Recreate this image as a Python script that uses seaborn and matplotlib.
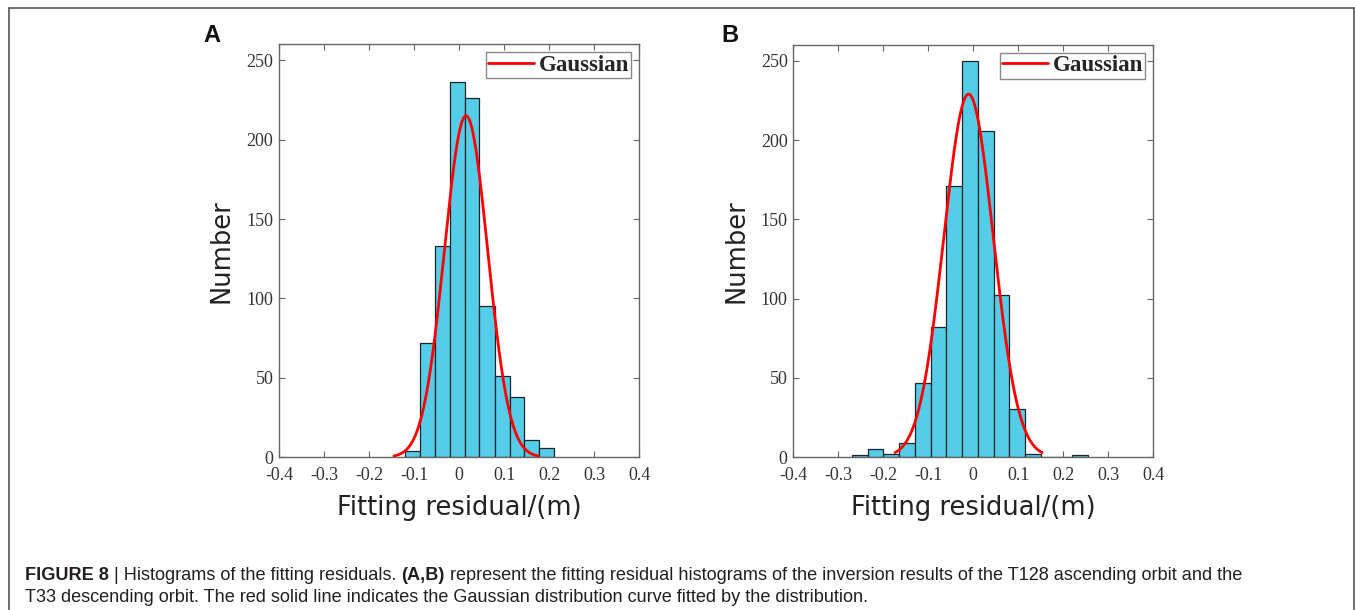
import numpy as np
import matplotlib
matplotlib.use("Agg")
import matplotlib.pyplot as plt
import seaborn as sns
from matplotlib.lines import Line2D

# ---------------- data ----------------
edges_a = [-0.120, -0.087, -0.054, -0.021, 0.012, 0.045, 0.079, 0.112, 0.145, 0.178, 0.211]
counts_a = [4, 72, 133, 236, 226, 95, 51, 38, 11, 6]
gauss_a = dict(amp=215, mu=0.0153, sigma=0.048, lo=-0.145, hi=0.176)

edges_b = [-0.270, -0.235, -0.200, -0.165, -0.130, -0.095, -0.060, -0.025, 0.010,
           0.045, 0.080, 0.115, 0.150, 0.185, 0.220, 0.255]
counts_b = [1, 5, 2, 9, 47, 82, 171, 250, 206, 102, 30, 2, 0, 0, 1]
gauss_b = dict(amp=229, mu=-0.0105, sigma=0.055, lo=-0.174, hi=0.153)

xticks = [-0.4, -0.3, -0.2, -0.1, 0.0, 0.1, 0.2, 0.3, 0.4]
xtick_labels = ["-0.4", "-0.3", "-0.2", "-0.1", "0", "0.1", "0.2", "0.3", "0.4"]
yticks = [0, 50, 100, 150, 200, 250]
ytick_labels = ["0", "50", "100", "150", "200", "250"]

panel_letters = ["A", "B"]
xlabel = "Fitting residual/(m)"
ylabel = "Number"
legend_label = "Gaussian"

caption_l1 = [("FIGURE 8", "bold"), (" | Histograms of the fitting residuals. ", "normal"),
              ("(A,B)", "bold"),
              (" represent the fitting residual histograms of the inversion results of the T128 ascending orbit and the", "normal")]
caption_l2 = "T33 descending orbit. The red solid line indicates the Gaussian distribution curve fitted by the distribution."

# ---------------- style ----------------
sns.set_theme(style="white")
plt.rcParams["font.family"] = ["DejaVu Sans"]

W, H = 1355, 610
fig = plt.figure(figsize=(W / 100, H / 100), dpi=100)

bar_color = "#55CDE8"
axis_color = "#666666"

def px_rect(left, top, right, bottom):
    return [left / W, 1 - bottom / H, (right - left) / W, (bottom - top) / H]

axes_boxes = [px_rect(279, 44.3, 639.3, 457.3), px_rect(793.3, 45, 1153.3, 457)]
letter_pos = [(212, 36), (730, 36)]

for i, (edges, counts, g) in enumerate([(edges_a, counts_a, gauss_a), (edges_b, counts_b, gauss_b)]):
    ax = fig.add_axes(axes_boxes[i])
    centers = [(edges[k] + edges[k + 1]) / 2 for k in range(len(counts))]
    sns.histplot(x=centers, weights=counts, bins=edges, ax=ax, color=bar_color,
                 edgecolor="#1a252b", linewidth=0.9, alpha=1.0, stat="count")
    xs = np.linspace(g["lo"], g["hi"], 300)
    ys = g["amp"] * np.exp(-((xs - g["mu"]) ** 2) / (2 * g["sigma"] ** 2))
    sns.lineplot(x=xs, y=ys, ax=ax, color="#FF0000", linewidth=2.0, label=legend_label, sort=False)

    ax.set_xlim(-0.4, 0.4)
    ax.set_ylim(0, 260)
    ax.set_xticks(xticks)
    ax.set_xticklabels(xtick_labels)
    ax.set_yticks(yticks)
    ax.set_yticklabels(ytick_labels)
    ax.tick_params(direction="in", length=4, width=0.8, color=axis_color,
                   top=True, right=True, bottom=True, left=True,
                   labelsize=13, labelcolor="#333333")
    ax.tick_params(axis="x", pad=7)
    ax.tick_params(axis="y", pad=4)
    for lab in ax.get_xticklabels() + ax.get_yticklabels():
        lab.set_family("Liberation Serif")
    for sp in ax.spines.values():
        sp.set_visible(True)
        sp.set_color(axis_color)
        sp.set_linewidth(1.0)

    ax.set_xlabel(xlabel, fontsize=18.5, color="#222222")
    ax.set_ylabel(ylabel, fontsize=18.5, color="#222222")
    ax.xaxis.set_label_coords(0.5, -0.1235)
    ax.xaxis.label.set_va("center")
    ax.yaxis.set_label_coords(-57 / 360, 0.5)
    ax.yaxis.label.set_va("center")

    leg = ax.legend(loc="upper right", frameon=True, fancybox=False,
                    prop=dict(family="Liberation Serif", weight="bold", size=16.5),
                    borderaxespad=0.35, borderpad=0.1, handlelength=2.0,
                    handletextpad=0.2, edgecolor="#888888")
    leg.get_frame().set_linewidth(1.0)
    leg.get_frame().set_alpha(1)

    fig.text(letter_pos[i][0] / W, 1 - letter_pos[i][1] / H, panel_letters[i],
             fontsize=17, fontweight="bold", ha="center", va="center", color="#111111",
             family="Liberation Sans")

# figure border (open at bottom)
for xs_, ys_ in [([9 / W, 9 / W], [0, 1 - 8 / H]),
                 ([9 / W, 1354 / W], [1 - 8 / H, 1 - 8 / H]),
                 ([1354 / W, 1354 / W], [0, 1 - 8 / H])]:
    fig.add_artist(Line2D(xs_, ys_, transform=fig.transFigure, color="#555555", linewidth=1.2))

# caption
cap_kw = dict(fontsize=13.1, family="Liberation Sans", color="#231f20")
yb = 1 - 580 / H
pieces = []
for txt, wt in caption_l1:
    pieces.append(fig.text(25 / W, yb, txt, fontweight=wt, va="baseline", ha="left", **cap_kw))
fig.canvas.draw()
renderer = fig.canvas.get_renderer()
x0 = pieces[0].get_window_extent(renderer).x1
for t in pieces[1:]:
    t.set_position((x0 / W, yb))
    x0 = t.get_window_extent(renderer).x1
fig.text(25 / W, 1 - 602 / H, caption_l2, va="baseline", ha="left", **cap_kw)

fig.savefig("out.png", dpi=100)
